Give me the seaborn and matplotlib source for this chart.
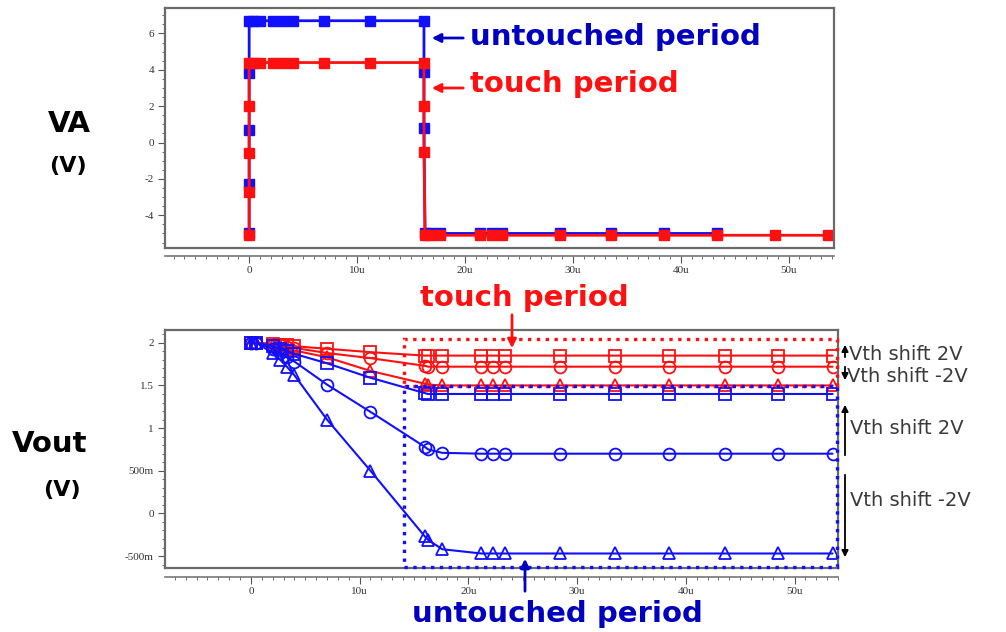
import matplotlib
matplotlib.use('Agg')
from matplotlib import pyplot as plt
from matplotlib.patches import Rectangle, FancyArrowPatch
from matplotlib.ticker import MultipleLocator
import seaborn as sns

# ---- data ----
# top panel: VA(t), time in micro-seconds
va_blue_t = [0, 0, 0, 0, 0, 0.4, 1.0, 2.2, 3.1, 4.1, 6.9, 11.2, 16.2, 16.2, 16.2,
             16.3, 16.8, 17.7, 21.4, 22.5, 23.4, 28.8, 33.5, 38.4, 43.4]
va_blue_v = [-5.0, -2.3, 0.7, 3.8, 6.7, 6.7, 6.7, 6.7, 6.7, 6.7, 6.7, 6.7, 6.7, 3.9, 0.8,
             -5.0, -5.0, -5.0, -5.0, -5.0, -5.0, -5.0, -5.0, -5.0, -5.0]
va_red_t = [0, 0, 0, 0, 0, 0.4, 1.0, 2.2, 3.1, 4.1, 6.9, 11.2, 16.2, 16.2, 16.2,
            16.3, 16.8, 17.7, 21.4, 22.5, 23.4, 28.8, 33.5, 38.4, 43.4, 48.7, 53.6]
va_red_v = [-5.1, -2.7, -0.6, 2.0, 4.4, 4.4, 4.4, 4.4, 4.4, 4.4, 4.4, 4.4, 4.4, 2.0, -0.5,
            -5.1, -5.1, -5.1, -5.1, -5.1, -5.1, -5.1, -5.1, -5.1, -5.1, -5.1, -5.1]

# bottom panel: Vout(t)
vout_t = [0, 0.5, 2.0, 2.7, 3.3, 4.0, 7.0, 11.0, 16.0, 16.3, 17.6,
          21.2, 22.3, 23.4, 28.4, 33.5, 38.5, 43.6, 48.5, 53.5]
red_sq = [2.0, 2.0, 1.99, 1.98, 1.97, 1.96, 1.93, 1.89, 1.85, 1.85, 1.85,
          1.85, 1.85, 1.85, 1.85, 1.85, 1.85, 1.85, 1.85, 1.85]
red_ci = [2.0, 2.0, 1.98, 1.97, 1.95, 1.94, 1.88, 1.82, 1.73, 1.72, 1.72,
          1.72, 1.72, 1.72, 1.72, 1.72, 1.72, 1.72, 1.72, 1.72]
red_tr = [2.0, 2.0, 1.97, 1.95, 1.93, 1.91, 1.83, 1.67, 1.52, 1.51, 1.50,
          1.50, 1.50, 1.50, 1.50, 1.50, 1.50, 1.50, 1.50, 1.50]
blue_sq = [2.0, 2.0, 1.96, 1.93, 1.90, 1.87, 1.76, 1.59, 1.41, 1.40, 1.40,
           1.40, 1.40, 1.40, 1.40, 1.40, 1.40, 1.40, 1.40, 1.40]
blue_ci = [2.0, 2.0, 1.93, 1.88, 1.83, 1.78, 1.51, 1.19, 0.78, 0.75, 0.71,
           0.70, 0.70, 0.70, 0.70, 0.70, 0.70, 0.70, 0.70, 0.70]
blue_tr = [2.0, 2.0, 1.88, 1.80, 1.72, 1.62, 1.10, 0.50, -0.27, -0.31, -0.42,
           -0.47, -0.47, -0.47, -0.47, -0.47, -0.47, -0.47, -0.47, -0.47]

x_ticks = [0, 10, 20, 30, 40, 50]
x_labels = ['0', '10u', '20u', '30u', '40u', '50u']
va_ticks = [6, 4, 2, 0, -2, -4]
vout_ticks = [2, 1.5, 1, 0.5, 0, -0.5]
vout_labels = ['2', '1.5', '1', '500m', '0', '-500m']

BLUE = '#1010ff'
RED = '#ff1010'
DBLUE = '#0000c0'

sns.set_style('white')
plt.rcParams['axes.unicode_minus'] = False
plt.rcParams['font.family'] = ['DejaVu Sans']

W, H = 1006, 632
fig = plt.figure(figsize=(W / 100, H / 100), dpi=100)


def px(x, y):
    return x / W, 1 - y / H


def frame(ax, xlim, ylim, off):
    ax.set_xlim(*xlim)
    ax.set_ylim(*ylim)
    for s in ax.spines.values():
        s.set_color('#6a6a6a')
        s.set_linewidth(1.6)
        s.set_visible(True)
    ax.tick_params(axis='x', bottom=False, labelbottom=False)
    ax.tick_params(axis='y', which='major', direction='out', length=5, left=True,
                   color='#555555', labelsize=8, pad=3)
    ax.tick_params(axis='y', which='minor', direction='out', length=2.5, left=True,
                   color='#555555')
    for lab in ax.get_yticklabels():
        lab.set_family('Liberation Serif')
        lab.set_color('#333333')
    sec = ax.secondary_xaxis(off)
    sec.set_xticks(x_ticks, x_labels)
    sec.xaxis.set_minor_locator(MultipleLocator(1))
    sec.tick_params(axis='x', which='major', length=5, color='#555555',
                    labelsize=8, labelcolor='#333333', pad=2)
    sec.tick_params(axis='x', which='minor', length=2.5, color='#555555')
    sec.spines['bottom'].set_color('#777777')
    sec.spines['bottom'].set_linewidth(1.2)
    for lab in sec.get_xticklabels():
        lab.set_family('Liberation Serif')


# ---------------- top panel ----------------
ax1 = fig.add_axes([165 / W, 1 - 248 / H, 669 / W, 240 / H])
sns.lineplot(x=va_blue_t, y=va_blue_v, ax=ax1, sort=False, estimator=None,
             color=BLUE, linewidth=2, marker='s', markersize=7.5,
             markeredgecolor=BLUE, markeredgewidth=1)
sns.lineplot(x=va_red_t, y=va_red_v, ax=ax1, sort=False, estimator=None,
             color=RED, linewidth=2, marker='s', markersize=7.5,
             markeredgecolor=RED, markeredgewidth=1)
ax1.set_yticks(va_ticks)
ax1.yaxis.set_minor_locator(MultipleLocator(0.5))
frame(ax1, (-7.8, 54.2), (-5.8, 7.4), -0.033)

# ---------------- bottom panel ----------------
ax2 = fig.add_axes([165 / W, 1 - 568 / H, 673 / W, 238 / H])
series = [(red_sq, RED, 's'), (red_ci, RED, 'o'), (red_tr, RED, '^'),
          (blue_sq, BLUE, 's'), (blue_ci, BLUE, 'o'), (blue_tr, BLUE, '^')]
for vals, col, mk in series:
    sns.lineplot(x=vout_t, y=vals, ax=ax2, sort=False, estimator=None,
                 color=col, linewidth=1.5, marker=mk, markersize=8.5,
                 markerfacecolor='none', markeredgecolor=col, markeredgewidth=1.3)
ax2.set_yticks(vout_ticks, vout_labels)
ax2.yaxis.set_minor_locator(MultipleLocator(0.1))
frame(ax2, (-7.9, 54.0), (-0.64, 2.15), -0.038)

# dotted boxes
ax2.add_patch(Rectangle((14.1, 1.49), 39.8, 0.56, fill=False, edgecolor=RED,
                        linestyle=':', linewidth=2.4, clip_on=False, zorder=5))
ax2.add_patch(Rectangle((14.1, -0.63), 39.8, 2.12, fill=False, edgecolor=BLUE,
                        linestyle=':', linewidth=2.4, clip_on=False, zorder=5))

# ---------------- annotations ----------------
big = dict(fontsize=21, fontweight='bold', va='center', ha='left')


def label(x, y, s, **kw):
    fig.text(*px(x, y), s, **kw)


def arrow(x0, y0, x1, y1, color, lw=2, head=8):
    fig.add_artist(FancyArrowPatch(
        px(x0, y0), px(x1, y1), transform=fig.transFigure,
        arrowstyle='-|>', mutation_scale=head * 1.6, color=color, linewidth=lw))


label(470, 37, 'untouched period', color=DBLUE, **big)
arrow(466, 38, 429, 38, DBLUE)
label(470, 84, 'touch period', color=RED, **big)
arrow(466, 88, 429, 88, RED)

label(420, 298, 'touch period', color=RED, **big)
arrow(512, 312, 512, 351, RED)
label(412, 614, 'untouched period', color=DBLUE, **big)
arrow(525, 594, 525, 556, DBLUE)

# left-hand axis titles
title = dict(fontweight='bold', ha='center', va='center', color='black')
label(69, 124, 'VA', fontsize=21, **title)
label(68, 166, '(V)', fontsize=16, **title)
label(50, 444, 'Vout', fontsize=21, **title)
label(62, 490, '(V)', fontsize=16, **title)

# Vth shift markers on the right
grey = '#3a3a3a'
arrow(845, 360, 845, 342, 'black', lw=1.3, head=6)
arrow(845, 364, 845, 383, 'black', lw=1.3, head=6)
arrow(845, 458, 845, 402, 'black', lw=1.3, head=6)
arrow(845, 472, 845, 560, 'black', lw=1.3, head=6)
small = dict(fontsize=14, color=grey, va='center', ha='left')
label(849, 354, 'Vth shift 2V', **small)
label(847, 377, 'Vth shift -2V', **small)
label(850, 428, 'Vth shift 2V', **small)
label(850, 500, 'Vth shift -2V', **small)

fig.savefig('out.png', dpi=100)
